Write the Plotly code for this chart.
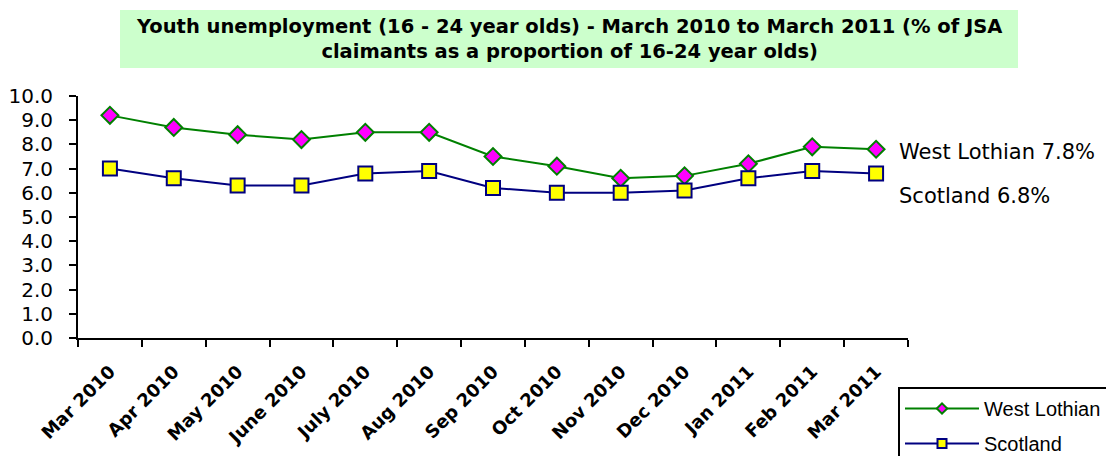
import plotly.graph_objects as go

months = ["Mar 2010", "Apr 2010", "May 2010", "June 2010", "July 2010", "Aug 2010",
          "Sep 2010", "Oct 2010", "Nov 2010", "Dec 2010", "Jan 2011", "Feb 2011", "Mar 2011"]
west_lothian = [9.2, 8.7, 8.4, 8.2, 8.5, 8.5, 7.5, 7.1, 6.6, 6.7, 7.2, 7.9, 7.8]
scotland = [7.0, 6.6, 6.3, 6.3, 6.8, 6.9, 6.2, 6.0, 6.0, 6.1, 6.6, 6.9, 6.8]
y_ticks = [0, 1, 2, 3, 4, 5, 6, 7, 8, 9, 10]

# the page body has an 8px margin; work in screen pixels and shift
OFF = 8
W, H = 1114 - OFF, 456 - OFF
L, R, T, B = 78 - OFF, 908 - OFF, 96 - OFF, 338 - OFF

def px(x):
    return (x - OFF - L) / (R - L)

def py(y):
    return (B - (y - OFF)) / (B - T)

WL_LINE, WL_FILL = "#008000", "#FF00FF"
SC_LINE, SC_FILL = "#000080", "#FFFF00"

fig = go.Figure()
fig.add_trace(go.Scatter(
    x=months, y=west_lothian, name="West Lothian", mode="lines+markers", showlegend=False,
    line=dict(color=WL_LINE, width=2),
    marker=dict(symbol="diamond", size=13, color=WL_FILL, line=dict(color=WL_LINE, width=2)),
))
fig.add_trace(go.Scatter(
    x=months, y=scotland, name="Scotland", mode="lines+markers", showlegend=False,
    line=dict(color=SC_LINE, width=2),
    marker=dict(symbol="square", size=14, color=SC_FILL, line=dict(color=SC_LINE, width=2)),
))
# legend entries with the small legend-style markers
fig.add_trace(go.Scatter(
    x=[None], y=[None], name="West Lothian", mode="lines+markers", legendgroup="a",
    line=dict(color=WL_LINE, width=2),
    marker=dict(symbol="diamond", size=8, color=WL_FILL, line=dict(color=WL_LINE, width=2)),
))
fig.add_trace(go.Scatter(
    x=[None], y=[None], name="Scotland", mode="lines+markers", legendgroup="b",
    line=dict(color=SC_LINE, width=2),
    marker=dict(symbol="square", size=9, color=SC_FILL, line=dict(color=SC_LINE, width=2)),
))

fig.update_layout(
    width=W, height=H,
    margin=dict(l=L, r=W - R, t=T, b=H - B, autoexpand=False),
    paper_bgcolor="white", plot_bgcolor="white",
    font=dict(family="DejaVu Sans, sans-serif", color="black"),
    showlegend=True,
    legend=dict(
        x=px(898), y=py(387), xanchor="left", yanchor="top",
        bordercolor="black", borderwidth=2, bgcolor="white",
        font=dict(size=20, family="Liberation Sans, Arial, sans-serif"),
        itemwidth=74, tracegroupgap=6,
    ),
    xaxis=dict(
        type="category", showgrid=False, showline=True, linecolor="black", linewidth=2,
        ticks="outside", tickson="boundaries", ticklen=7, tickwidth=2, tickcolor="black",
        tickangle=-45, automargin=False, ticklabelstandoff=14,
        tickfont=dict(size=18, family="DejaVu Sans, sans-serif", weight="bold"),
        range=[-0.5, len(months) - 0.5],
    ),
    yaxis=dict(
        range=[0, 10], tickvals=y_ticks, ticktext=[f"{v:.1f}" for v in y_ticks],
        showgrid=False, showline=True, linecolor="black", linewidth=2,
        ticks="outside", ticklen=7, tickwidth=2, tickcolor="black",
        tickfont=dict(size=20, family="DejaVu Sans, sans-serif"), zeroline=False,
        automargin=False, ticklabelstandoff=12,
    ),
)

fig.add_shape(type="rect", xref="paper", yref="paper",
              x0=px(120), x1=px(1018), y0=py(68), y1=py(10),
              fillcolor="#CCFFCC", line=dict(width=0), layer="below")
fig.add_annotation(
    xref="paper", yref="paper", x=px(569), y=py(39), xanchor="center", yanchor="middle",
    text="<b>Youth unemployment (16 - 24 year olds) - March 2010 to March 2011 (% of JSA<br>claimants as a proportion of 16-24 year olds)</b>",
    showarrow=False, font=dict(size=19.5, family="DejaVu Sans, sans-serif"),
)
fig.add_annotation(xref="paper", yref="paper", x=px(897), y=py(152), xanchor="left", yanchor="middle",
                   text="West Lothian 7.8%", showarrow=False, font=dict(size=21))
fig.add_annotation(xref="paper", yref="paper", x=px(897), y=py(196), xanchor="left", yanchor="middle",
                   text="Scotland 6.8%", showarrow=False, font=dict(size=21))

fig.write_html("out.html")
